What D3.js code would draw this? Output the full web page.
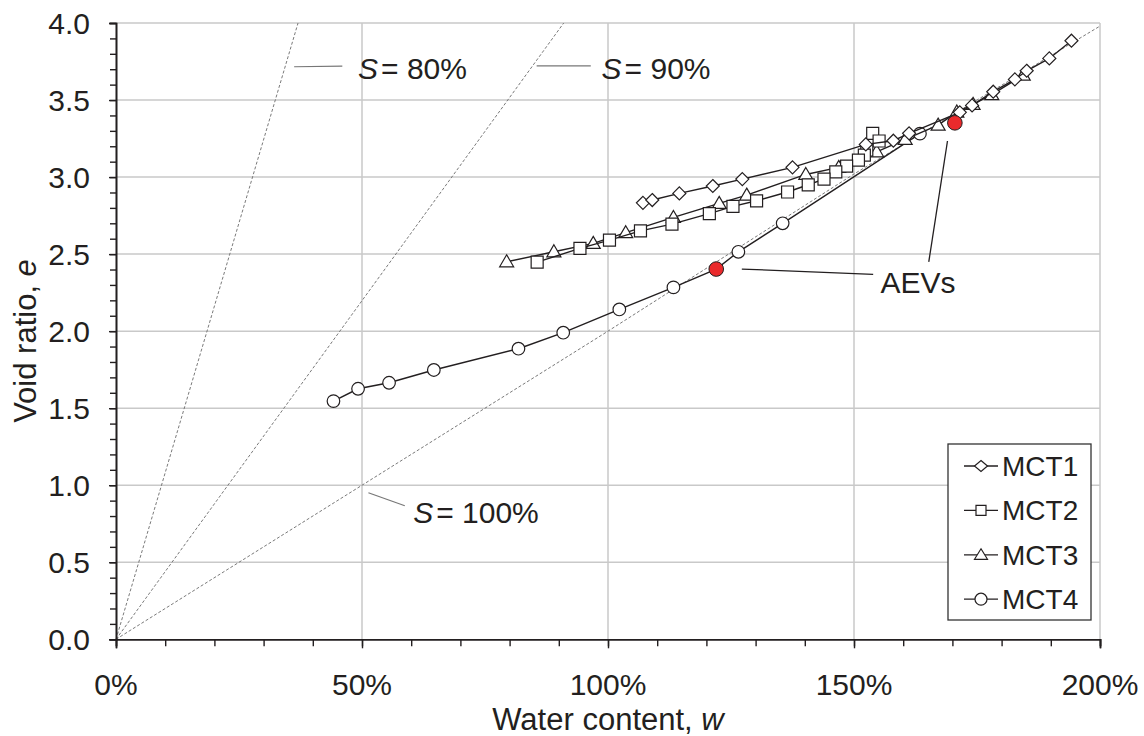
<!DOCTYPE html>
<html>
<head>
<meta charset="utf-8">
<script src="https://cdn.jsdelivr.net/npm/d3@7"></script>
<style>
  html, body { margin: 0; padding: 0; background: #fff; }
  svg { display: block; font-family: "Liberation Sans", Arial, Helvetica, sans-serif; }
</style>
</head>
<body>
<svg id="chart" width="1144" height="736"></svg>
<script>
// ---------- data ----------
const xTicks = [0, 50, 100, 150, 200];           // water content, %
const yTicks = [0, 0.5, 1.0, 1.5, 2.0, 2.5, 3.0, 3.5, 4.0];
const seriesNames = ["MCT1", "MCT2", "MCT3", "MCT4"];

const mct1W = [107.1, 109.0, 114.5, 121.3, 127.3, 137.5, 152.4, 158.0, 161.2, 171.5, 174.0, 178.3, 182.7, 185.1, 189.7, 194.2];
const mct1E = [2.833, 2.851, 2.894, 2.942, 2.987, 3.063, 3.212, 3.236, 3.284, 3.420, 3.465, 3.554, 3.634, 3.690, 3.770, 3.885];

const mct2W = [153.8, 155.1, 152.6, 152.1, 150.9, 148.5, 146.3, 143.9, 140.7, 136.5, 130.2, 125.4, 120.6, 113.0, 106.6, 100.3, 94.3, 85.6];
const mct2E = [3.284, 3.234, 3.175, 3.143, 3.110, 3.071, 3.034, 2.987, 2.950, 2.903, 2.846, 2.810, 2.763, 2.695, 2.651, 2.591, 2.537, 2.448];

const mct3W = [79.4, 89.0, 97.0, 103.6, 113.3, 122.6, 128.2, 140.2, 146.9, 154.6, 160.4, 167.1, 170.9, 174.2, 178.0, 184.4];
const mct3E = [2.450, 2.515, 2.570, 2.639, 2.738, 2.829, 2.883, 3.017, 3.063, 3.164, 3.245, 3.337, 3.422, 3.472, 3.535, 3.662];

const mct4W = [44.2, 49.2, 55.5, 64.6, 81.8, 90.9, 102.3, 113.3, 122.0, 126.5, 135.5, 163.4];
const mct4E = [1.546, 1.626, 1.665, 1.748, 1.886, 1.990, 2.141, 2.284, 2.403, 2.515, 2.700, 3.282];

const aevW = [122.0, 170.5];
const aevE = [2.403, 3.352];

// saturation reference lines
const s80W = [0, 37.0];            const s80E = [0, 4.0];
const s90W = [0, 91.0];            const s90E = [0, 4.0];
const s100W = [0, 50, 100, 150, 200]; const s100E = [0, 1.0, 2.0, 3.02, 3.98];

// annotation anchors (data units: w %, e)
const s80Label  = { lead: [[36.2, 3.716], [46.0, 3.72]], text: [49.2, 3.636], value: "80%" };
const s90Label  = { lead: [[85.5, 3.722], [96.5, 3.722]], text: [98.7, 3.636], value: "90%" };
const s100Label = { lead: [[51.3, 0.951], [58.7, 0.867]], text: [60.4, 0.753], value: "100%" };
const aevLabel  = { text: [155.4, 2.245], leads: [[[127.2, 2.403], [153.9, 2.369]], [[165.2, 2.450], [169.0, 3.234]]] };

// ---------- drawing ----------
const svg = d3.select("#chart");
const x = d3.scaleLinear().domain([0, 200]).range([116, 1100]);
const y = d3.scaleLinear().domain([0, 4]).range([639.3, 23]);
const ink = "#231f20";
const fs = 30;

// gridlines
const grid = svg.append("g");
grid.selectAll(".gx").data(xTicks.filter(d => d > 0)).enter().append("line")
  .attr("x1", d => x(d)).attr("x2", d => x(d)).attr("y1", y(0)).attr("y2", y(4))
  .attr("stroke", "#c9c9c9").attr("stroke-width", 1.5);
grid.selectAll(".gy").data(yTicks.filter(d => d > 0)).enter().append("line")
  .attr("x1", x(0)).attr("x2", x(200)).attr("y1", d => y(d)).attr("y2", d => y(d))
  .attr("stroke", "#c9c9c9").attr("stroke-width", 1.5);

// saturation lines
const line = d3.line().x(d => x(d[0])).y(d => y(d[1]));
[[s80W, s80E], [s90W, s90E], [s100W, s100E]].forEach(([ws, es]) => {
  svg.append("path").datum(ws.map((w, i) => [w, es[i]]))
    .attr("d", line).attr("fill", "none").attr("stroke", "#7a7a7a")
    .attr("stroke-width", 1).attr("stroke-dasharray", "3,2");
});

// axes
const xAxisMinor = d3.axisBottom(x).tickValues(d3.range(0, 201, 10)).tickSize(7).tickFormat("");
const xAxisMajor = d3.axisBottom(x).tickValues(xTicks).tickSize(9).tickFormat("");
const gx = svg.append("g").attr("transform", `translate(0,${y(0)})`);
gx.call(xAxisMinor);
gx.append("g").call(xAxisMajor);
gx.selectAll("path").attr("stroke", ink).attr("stroke-width", 1.6);
gx.selectAll("line").attr("stroke", ink).attr("stroke-width", 1.4);

const yAxisMinor = d3.axisLeft(y).tickValues(d3.range(0, 41, 1).map(d => d / 10)).tickSize(6).tickFormat("");
const gy = svg.append("g").attr("transform", `translate(${x(0)},0)`);
gy.call(yAxisMinor);
gy.append("g").call(d3.axisLeft(y).tickValues(yTicks).tickSize(7).tickFormat(""));
gy.selectAll("path").attr("stroke", ink).attr("stroke-width", 1.6);
gy.selectAll("line").attr("stroke", ink).attr("stroke-width", 1.4);

// tick labels
svg.append("g").selectAll("text").data(xTicks).enter().append("text")
  .attr("x", d => x(d)).attr("y", 695).attr("text-anchor", "middle")
  .attr("font-size", fs).attr("fill", ink).text(d => d + "%");
svg.append("g").selectAll("text").data(yTicks).enter().append("text")
  .attr("x", 90).attr("y", d => y(d) + 10.5).attr("text-anchor", "end")
  .attr("font-size", fs).attr("fill", ink).text(d => d.toFixed(1));

// axis titles
const xt = svg.append("text").attr("x", x(100)).attr("y", 730).attr("text-anchor", "middle")
  .attr("font-size", 31).attr("fill", ink);
xt.append("tspan").text("Water content, ");
xt.append("tspan").attr("font-style", "italic").text("w");

const yt = svg.append("text").attr("transform", `translate(36,341) rotate(-90)`)
  .attr("text-anchor", "middle").attr("font-size", 31).attr("fill", ink);
yt.append("tspan").text("Void ratio, ");
yt.append("tspan").attr("font-style", "italic").text("e");

// saturation labels
[s80Label, s90Label, s100Label].forEach(l => {
  svg.append("line")
    .attr("x1", x(l.lead[0][0])).attr("y1", y(l.lead[0][1]))
    .attr("x2", x(l.lead[1][0])).attr("y2", y(l.lead[1][1]))
    .attr("stroke", "#777").attr("stroke-width", 1.2);
  const t = svg.append("text").attr("x", x(l.text[0])).attr("y", y(l.text[1]))
    .attr("font-size", fs).attr("fill", ink);
  t.append("tspan").attr("font-style", "italic").text("S");
  t.append("tspan").attr("dx", 3).text("= " + l.value);
});

// data series
const markers = {
  MCT1: "M0,-6.5L6.5,0L0,6.5L-6.5,0Z",
  MCT2: "M-6,-6H6V6H-6Z",
  MCT3: "M0,-7L7,5L-7,5Z",
  MCT4: d3.symbol(d3.symbolCircle, Math.PI * 6.3 * 6.3)()
};
const legendMarkers = {
  MCT1: "M0,-5.5L6.5,0L0,5.5L-6.5,0Z",
  MCT2: "M-5,-5H5V5H-5Z",
  MCT3: "M0,-6L6.5,4.5L-6.5,4.5Z",
  MCT4: d3.symbol(d3.symbolCircle, Math.PI * 6 * 6)()
};
const seriesData = {
  MCT1: mct1W.map((w, i) => [w, mct1E[i]]),
  MCT2: mct2W.map((w, i) => [w, mct2E[i]]),
  MCT3: mct3W.map((w, i) => [w, mct3E[i]]),
  MCT4: mct4W.map((w, i) => [w, mct4E[i]])
};

// draw in order so MCT4 sits below others
["MCT4", "MCT3", "MCT2", "MCT1"].forEach(name => {
  const data = seriesData[name];
  const g = svg.append("g");
  g.append("path").datum(data).attr("d", line).attr("fill", "none")
    .attr("stroke", ink).attr("stroke-width", 1.4);
  g.selectAll("path.m").data(data).enter().append("path").attr("class", "m")
    .attr("d", markers[name])
    .attr("transform", d => `translate(${x(d[0])},${y(d[1])})`)
    .attr("fill", "#fff").attr("stroke", ink).attr("stroke-width", 1.2);
});

// AEV points
svg.append("g").selectAll("circle").data(aevW.map((w, i) => [w, aevE[i]])).enter()
  .append("circle").attr("cx", d => x(d[0])).attr("cy", d => y(d[1])).attr("r", 7.3)
  .attr("fill", "#ea2a2c").attr("stroke", ink).attr("stroke-width", 1);

// AEV label and leaders
aevLabel.leads.forEach(ld => {
  svg.append("line").attr("x1", x(ld[0][0])).attr("y1", y(ld[0][1]))
    .attr("x2", x(ld[1][0])).attr("y2", y(ld[1][1]))
    .attr("stroke", ink).attr("stroke-width", 1.3);
});
svg.append("text").attr("x", x(aevLabel.text[0])).attr("y", y(aevLabel.text[1]))
  .attr("font-size", fs).attr("fill", ink).text("AEVs");

// legend
const lg = svg.append("g").attr("transform", "translate(948,444)");
lg.append("rect").attr("width", 143).attr("height", 176)
  .attr("fill", "#fff").attr("stroke", "#333").attr("stroke-width", 1.3);
seriesNames.forEach((name, i) => {
  const cy = 22 + i * 44.4;
  lg.append("line").attr("x1", 16).attr("x2", 50).attr("y1", cy).attr("y2", cy)
    .attr("stroke", ink).attr("stroke-width", 1.3);
  lg.append("path").attr("d", legendMarkers[name]).attr("transform", `translate(33,${cy})`)
    .attr("fill", "#fff").attr("stroke", ink).attr("stroke-width", 1.2);
  lg.append("text").attr("x", 54).attr("y", cy + 10).attr("font-size", 28)
    .attr("fill", ink).text(name);
});
</script>
</body>
</html>
